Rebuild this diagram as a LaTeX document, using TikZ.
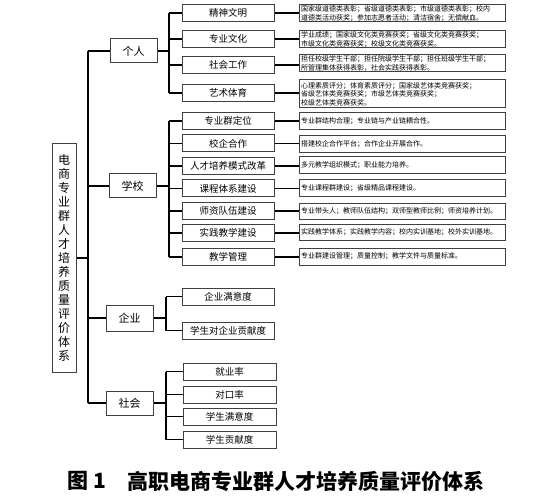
\documentclass[tikz,border=0pt]{standalone}
\usepackage{fontspec}
\setmainfont{Noto Sans CJK SC}
\begin{document}
\begin{tikzpicture}[x=1pt,y=-1pt,
  bx/.style={draw=black!75,line width=1pt,inner sep=0pt,fill=white},
  rootbox/.style={bx,minimum width=24pt,minimum height=228pt,font=\fontsize{12}{14}\selectfont,align=center},
  lone/.style={bx,minimum width=47pt,minimum height=24pt,font=\fontsize{11}{13}\selectfont},
  ltwo/.style={bx,minimum width=92pt,minimum height=17pt,font=\fontsize{9.5}{11}\selectfont},
  lthree/.style={bx,anchor=west,text width=203pt,inner xsep=1.5pt,minimum height=17pt,align=left,font=\fontsize{7}{8.5}\selectfont},
  conn/.style={line width=1.3pt,black},
  captxt/.style={anchor=west,inner sep=0pt,font=\fontsize{21}{21}\selectfont\bfseries}]
\useasboundingbox (0,0) rectangle (544,500);

% spine coordinates
\coordinate (spx) at (88,0);
\coordinate (s1) at (169,0);
\coordinate (s2) at (166,0);

% root
\node[rootbox] (root) at (64,258) {电\\商\\专\\业\\群\\人\\才\\培\\养\\质\\量\\评\\价\\体\\系};

% level 1
\node[lone] (geren) at (133.5,51) {个人};
\node[lone] (xuexiao) at (132.5,186) {学校};
\node[lone,minimum height=26pt] (qiye) at (129.5,318) {企业};
\node[lone] (shehui) at (129.5,403) {社会};

% level 2
\node[ltwo] (a1) at (228,13) {精神文明};
\node[ltwo] (a2) at (228,39) {专业文化};
\node[ltwo] (a3) at (228,65) {社会工作};
\node[ltwo] (a4) at (228,93) {艺术体育};

\node[ltwo] (b1) at (228,121) {专业群定位};
\node[ltwo] (b2) at (228,143.5) {校企合作};
\node[ltwo] (b3) at (228,166) {人才培养模式改革};
\node[ltwo] (b4) at (228,188.5) {课程体系建设};
\node[ltwo] (b5) at (228,211) {师资队伍建设};
\node[ltwo] (b6) at (228,233) {实践教学建设};
\node[ltwo] (b7) at (228,257) {教学管理};

\node[ltwo] (c1) at (228,296.5) {企业满意度};
\node[ltwo] (c2) at (228,330.5) {学生对企业贡献度};

\node[ltwo,minimum width=93pt] (d1) at (229.5,371.5) {就业率};
\node[ltwo,minimum width=93pt] (d2) at (229.5,394.5) {对口率};
\node[ltwo,minimum width=93pt] (d3) at (229.5,416.5) {学生满意度};
\node[ltwo,minimum width=93pt] (d4) at (229.5,439.5) {学生贡献度};

% level 3
\node[lthree] (ta1) at (299,13.5) {国家级道德类表彰；省级道德类表彰；市级道德类表彰；校内\\道德类活动获奖；参加志愿者活动；清洁宿舍；无偿献血。};
\node[lthree] (ta2) at (299,39.5) {学业成绩；国家级文化类竞赛获奖；省级文化类竞赛获奖；\\市级文化类竞赛获奖；校级文化类竞赛获奖。};
\node[lthree] (ta3) at (299,63.5) {担任校级学生干部；担任院级学生干部；担任班级学生干部；\\所管理集体获得表彰，社会实践获得表彰。};
\node[lthree,minimum height=28pt] (ta4) at (299,94) {心理素质评分；体育素质评分；国家级艺体类竞赛获奖；\\省级艺体类竞赛获奖；市级艺体类竞赛获奖；\\校级艺体类竞赛获奖。};

\node[lthree] (tb1) at (299,121.5) {专业群结构合理；专业链与产业链耦合性。};
\node[lthree] (tb2) at (299,144.5) {搭建校企合作平台；合作企业开展合作。};
\node[lthree] (tb3) at (299,165.5) {多元教学组织模式；职业能力培养。};
\node[lthree] (tb4) at (299,188.5) {专业课程群建设；省级精品课程建设。};
\node[lthree,minimum height=16pt] (tb5) at (299,211.5) {专业带头人；教师队伍结构；双师型教师比例；师资培养计划。};
\node[lthree,minimum height=16pt] (tb6) at (299,232.5) {实践教学体系；实践教学内容；校内实训基地；校外实训基地。};
\node[lthree] (tb7) at (299,256.5) {专业群建设管理；质量控制；教学文件与质量标准。};

% root connections
\draw[conn] (root.east) -- (root.east -| spx);
\draw[conn] (geren.west -| spx) -- (shehui.west -| spx);
\foreach \n in {geren,xuexiao,qiye,shehui}
  \draw[conn] (\n.west -| spx) -- (\n.west);

% level1 to level2
\draw[conn] (geren.east) -- (geren.east -| s1);
\draw[conn] (a1.west -| s1) -- (a4.west -| s1);
\foreach \n in {a1,a2,a3,a4}
  \draw[conn] (\n.west -| s1) -- (\n.west);

\draw[conn] (xuexiao.east) -- (xuexiao.east -| s1);
\draw[conn] (b1.west -| s1) -- (b7.west -| s1);
\foreach \n in {b1,b2,b3,b4,b5,b6,b7}
  \draw[conn] (\n.west -| s1) -- (\n.west);

\draw[conn] (qiye.east) -- (qiye.east -| s2);
\draw[conn] (c1.west -| s2) -- (c2.west -| s2);
\foreach \n in {c1,c2}
  \draw[conn] (\n.west -| s2) -- (\n.west);

\draw[conn] (shehui.east) -- (shehui.east -| s2);
\draw[conn] (d1.west -| s2) -- (d4.west -| s2);
\foreach \n in {d1,d2,d3,d4}
  \draw[conn] (\n.west -| s2) -- (\n.west);

% level2 to level3
\foreach \n in {a1,a2,a3,a4}
  \draw[conn] (\n.east) -- (\n.east -| ta1.west);
\foreach \n in {b1,b2,b3,b4,b5,b6,b7}
  \draw[conn] (\n.east) -- (\n.east -| tb1.west);

% caption
\node[captxt] (fig) at (67,481) {图 1};
\node[captxt] (title) at (127,481) {高职电商专业群人才培养质量评价体系};
\end{tikzpicture}
\end{document}
